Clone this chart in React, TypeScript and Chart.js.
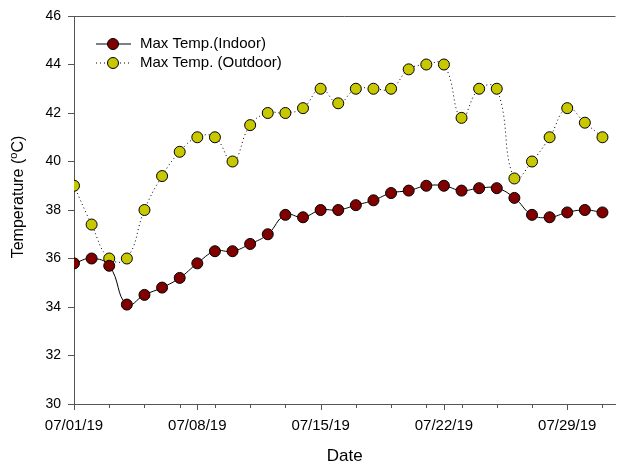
import React, { useEffect, useRef } from "react";
import { Chart, registerables } from "chart.js";

Chart.register(...registerables);

const dates = [
  "07/01/19","07/02/19","07/03/19","07/04/19","07/05/19","07/06/19","07/07/19","07/08/19",
  "07/09/19","07/10/19","07/11/19","07/12/19","07/13/19","07/14/19","07/15/19","07/16/19",
  "07/17/19","07/18/19","07/19/19","07/20/19","07/21/19","07/22/19","07/23/19","07/24/19",
  "07/25/19","07/26/19","07/27/19","07/28/19","07/29/19","07/30/19","07/31/19",
];
const indoor = [
  35.8, 36.0, 35.7, 34.1, 34.5, 34.8, 35.2, 35.8, 36.3, 36.3, 36.6, 37.0, 37.8, 37.7, 38.0, 38.0,
  38.2, 38.4, 38.7, 38.8, 39.0, 39.0, 38.8, 38.9, 38.9, 38.5, 37.8, 37.7, 37.9, 38.0, 37.9,
];
const outdoor = [
  39.0, 37.4, 36.0, 36.0, 38.0, 39.4, 40.4, 41.0, 41.0, 40.0, 41.5, 42.0, 42.0, 42.2, 43.0, 42.4,
  43.0, 43.0, 43.0, 43.8, 44.0, 44.0, 41.8, 43.0, 43.0, 39.3, 40.0, 41.0, 42.2, 41.6, 41.0,
];
const majorTickDates = ["07/01/19", "07/08/19", "07/15/19", "07/22/19", "07/29/19"];
const yTicks = [30, 32, 34, 36, 38, 40, 42, 44, 46];
const seriesNames = ["Max Temp.(Indoor)", "Max Temp. (Outdoor)"];
const yTitleParts = ["Temperature (", "o", "C)"];
const xTitle = "Date";

const FONT = 'Arial, "Liberation Sans", sans-serif';
const AXIS_COLOR = "#555555";
const INDOOR_FILL = "#800000";
const OUTDOOR_FILL = "#C8C800";

export default function App() {
  const ref = useRef<HTMLCanvasElement | null>(null);

  useEffect(() => {
    document.body.style.margin = "0";
    const canvas = ref.current;
    if (!canvas) return;

    const majorIdx = majorTickDates.map((d) => dates.indexOf(d));
    const minorIdx = dates.map((_, i) => i).filter((i) => i % 2 === 0);

    const framePlugin = {
      id: "frame",
      afterDraw(chart: any) {
        const ctx = chart.ctx;
        const area = chart.chartArea;
        const xs = chart.scales.x;
        ctx.save();
        ctx.strokeStyle = AXIS_COLOR;
        ctx.lineWidth = 1;
        // top frame line
        ctx.beginPath();
        ctx.moveTo(area.left, area.top + 0.5);
        ctx.lineTo(area.right, area.top + 0.5);
        ctx.stroke();
        // x ticks
        const drawTick = (i: number, len: number) => {
          const px = Math.round(xs.getPixelForValue(i)) + 0.5;
          ctx.beginPath();
          ctx.moveTo(px, area.bottom);
          ctx.lineTo(px, area.bottom + len);
          ctx.stroke();
        };
        minorIdx.forEach((i) => drawTick(i, 4));
        majorIdx.forEach((i) => drawTick(i, 6));

        // legend
        const lx0 = 96, lx1 = 131, lmid = 113;
        const rows = [
          { y: 44, fill: INDOOR_FILL, dash: [] as number[] },
          { y: 63, fill: OUTDOOR_FILL, dash: [1, 3] },
        ];
        rows.forEach((r, k) => {
          ctx.strokeStyle = "#000";
          ctx.lineWidth = 1;
          ctx.setLineDash(r.dash);
          ctx.beginPath();
          ctx.moveTo(lx0, r.y);
          ctx.lineTo(lx1, r.y);
          ctx.stroke();
          ctx.setLineDash([]);
          ctx.beginPath();
          ctx.arc(lmid, r.y, 5.5, 0, Math.PI * 2);
          ctx.fillStyle = r.fill;
          ctx.fill();
          ctx.stroke();
          ctx.fillStyle = "#000";
          ctx.font = `15px ${FONT}`;
          ctx.textBaseline = "middle";
          ctx.textAlign = "left";
          ctx.fillText(seriesNames[k], 140, r.y);
        });

        // y axis title with superscript
        ctx.save();
        ctx.translate(19, 197);
        ctx.rotate(-Math.PI / 2);
        ctx.fillStyle = "#000";
        ctx.textBaseline = "middle";
        ctx.textAlign = "left";
        const big = `16px ${FONT}`;
        const small = `11px ${FONT}`;
        ctx.font = big;
        const w0 = ctx.measureText(yTitleParts[0]).width;
        const w2 = ctx.measureText(yTitleParts[2]).width;
        ctx.font = small;
        const w1 = ctx.measureText(yTitleParts[1]).width;
        let x = -(w0 + w1 + w2) / 2;
        ctx.font = big;
        ctx.fillText(yTitleParts[0], x, 0);
        x += w0;
        ctx.font = small;
        ctx.fillText(yTitleParts[1], x, -5);
        x += w1;
        ctx.font = big;
        ctx.fillText(yTitleParts[2], x, 0);
        ctx.restore();

        ctx.restore();
      },
    };

    const chart = new Chart(canvas, {
      type: "line",
      data: {
        datasets: [
          {
            label: seriesNames[0],
            data: indoor.map((v, i) => ({ x: i, y: v })),
            borderColor: "#000",
            borderWidth: 1,
            backgroundColor: INDOOR_FILL,
            pointBackgroundColor: INDOOR_FILL,
            pointBorderColor: "#000",
            pointBorderWidth: 1,
            pointRadius: 5.5,
            tension: 0.45,
            fill: false,
          },
          {
            label: seriesNames[1],
            data: outdoor.map((v, i) => ({ x: i, y: v })),
            borderColor: "#000",
            borderWidth: 1,
            borderDash: [1, 3],
            backgroundColor: OUTDOOR_FILL,
            pointBackgroundColor: OUTDOOR_FILL,
            pointBorderColor: "#000",
            pointBorderWidth: 1,
            pointRadius: 5.5,
            tension: 0.45,
            fill: false,
          },
        ],
      },
      options: {
        responsive: false,
        animation: false,
        maintainAspectRatio: false,
        layout: { padding: { top: 16, right: 2, left: 0, bottom: 0 } },
        plugins: {
          legend: { display: false },
          tooltip: { enabled: false },
        },
        scales: {
          x: {
            type: "linear",
            min: 0,
            max: 30.74,
            afterBuildTicks: (scale: any) => {
              scale.ticks = majorIdx.map((i) => ({ value: i }));
            },
            afterFit: (scale: any) => {
              scale.height = 63;
            },
            ticks: {
              callback: (v: any) => dates[Number(v)] ?? "",
              font: { family: FONT, size: 15 },
              color: "#000",
              padding: 13,
              maxRotation: 0,
              autoSkip: false,
            },
            grid: { display: false, drawTicks: false },
            border: { display: true, color: AXIS_COLOR, width: 1 },
            title: {
              display: true,
              text: xTitle,
              font: { family: FONT, size: 17 },
              color: "#000",
              padding: 0,
            },
          },
          y: {
            min: 30,
            max: 46,
            afterBuildTicks: (scale: any) => {
              scale.ticks = yTicks.map((v) => ({ value: v }));
            },
            afterFit: (scale: any) => {
              scale.width = 74;
            },
            ticks: {
              font: { family: FONT, size: 14 },
              color: "#000",
              padding: 7,
            },
            grid: {
              display: true,
              drawOnChartArea: false,
              drawTicks: true,
              tickLength: 6,
              tickColor: AXIS_COLOR,
            },
            border: { display: true, color: AXIS_COLOR, width: 1 },
            title: { display: false },
          },
        },
      },
      plugins: [framePlugin],
    });

    return () => chart.destroy();
  }, []);

  return <canvas ref={ref} width={622} height={467} style={{ display: "block" }} />;
}
